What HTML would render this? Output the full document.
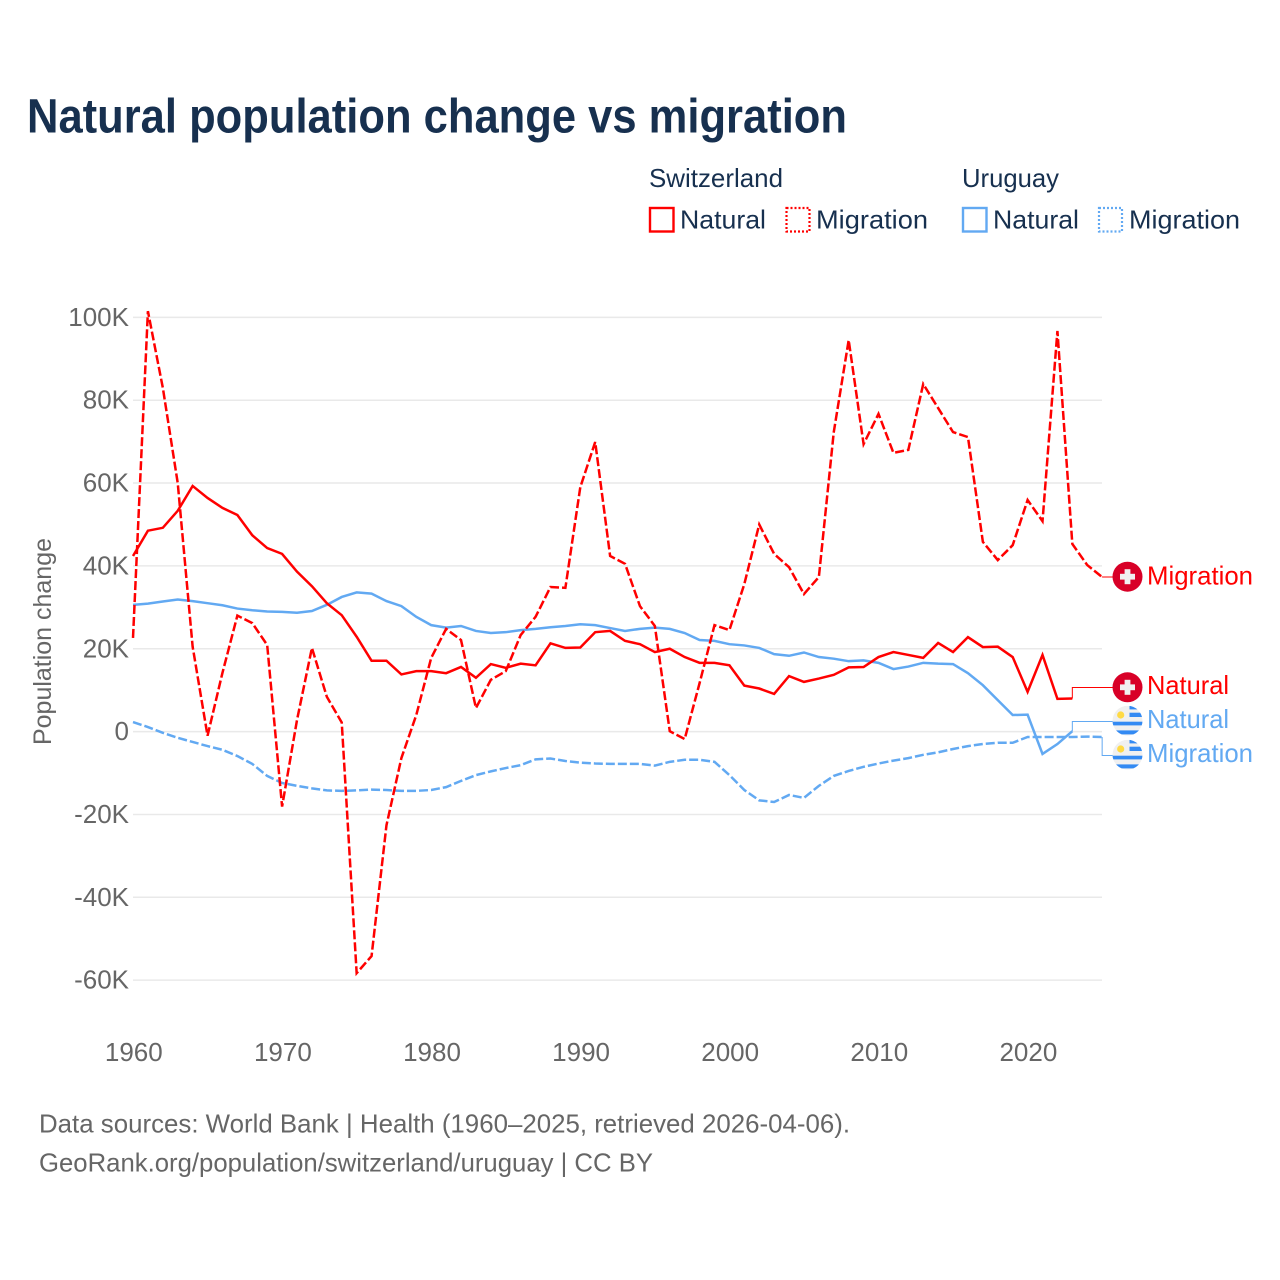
<!DOCTYPE html>
<html lang="en">
<head>
<meta charset="utf-8">
<title>Natural population change vs migration</title>
<style>
html,body{margin:0;padding:0;background:#fff;}
svg{display:block;font-family:"Liberation Sans",sans-serif;}
</style>
</head>
<body>
<svg id="chart" xmlns="http://www.w3.org/2000/svg" width="1280" height="1280" viewBox="0 0 1280 1280">
  <defs>
    <clipPath id="flag-clip"><circle cx="0" cy="0" r="15"/></clipPath>
  </defs>
  <rect x="0" y="0" width="1280" height="1280" fill="#fff"/>
  <text x="27" y="132.5" font-size="48" font-weight="700" fill="#17304f" textLength="820" lengthAdjust="spacingAndGlyphs">Natural population change vs migration</text>

  <g font-size="26" fill="#17304f">
    <text x="649" y="187" textLength="134" lengthAdjust="spacingAndGlyphs">Switzerland</text>
    <text x="962" y="187" textLength="97" lengthAdjust="spacingAndGlyphs">Uruguay</text>
    <rect x="650" y="208" width="23.5" height="23.5" fill="none" stroke="#ff0000" stroke-width="2.4"/>
    <text x="680" y="228.5" textLength="86" lengthAdjust="spacingAndGlyphs">Natural</text>
    <rect x="786.5" y="208" width="23" height="23.5" fill="none" stroke="#ff0000" stroke-width="2.2" stroke-dasharray="2 2"/>
    <text x="816" y="228.5" textLength="112" lengthAdjust="spacingAndGlyphs">Migration</text>
    <rect x="963" y="208" width="23.5" height="23.5" fill="none" stroke="#62a9f2" stroke-width="2.4"/>
    <text x="993" y="228.5" textLength="86" lengthAdjust="spacingAndGlyphs">Natural</text>
    <rect x="1099" y="208" width="23" height="23.5" fill="none" stroke="#62a9f2" stroke-width="2.2" stroke-dasharray="2 2"/>
    <text x="1129" y="228.5" textLength="111" lengthAdjust="spacingAndGlyphs">Migration</text>
  </g>

  <g id="grid"></g>
  <g id="y-ticks" font-size="26" fill="#666" text-anchor="end"></g>
  <g id="x-ticks" font-size="26" fill="#666" text-anchor="middle"></g>
  <text transform="translate(51,641.5) rotate(-90)" font-size="25" fill="#666" text-anchor="middle" textLength="207" lengthAdjust="spacingAndGlyphs">Population change</text>

  <g id="connectors" fill="none" stroke-width="1"></g>
  <g id="series" fill="none" stroke-width="2.5" stroke-linejoin="miter"></g>

  <g>
    <g transform="translate(1127.5,576.7)">
      <circle r="15" fill="#d80027"/><rect x="-7.5" y="-2.9" width="15" height="5.8" fill="#f0f0f0"/><rect x="-2.9" y="-7.5" width="5.8" height="15" fill="#f0f0f0"/>
    </g>
    <text x="1147" y="584.5" font-size="26" fill="#ff0000" textLength="106" lengthAdjust="spacingAndGlyphs">Migration</text>
  </g>
  <g>
    <g transform="translate(1127.5,687.3)">
      <circle r="15" fill="#d80027"/><rect x="-7.5" y="-2.9" width="15" height="5.8" fill="#f0f0f0"/><rect x="-2.9" y="-7.5" width="5.8" height="15" fill="#f0f0f0"/>
    </g>
    <text x="1147" y="694" font-size="26" fill="#ff0000" textLength="82" lengthAdjust="spacingAndGlyphs">Natural</text>
  </g>
  <g>
    <g transform="translate(1127.5,720.7)" clip-path="url(#flag-clip)">
      <circle r="15" fill="#f0f0f0"/><rect x="2" y="-15" width="14" height="3.7" fill="#338af3"/><rect x="2" y="-8" width="14" height="4.3" fill="#338af3"/><rect x="-15" y="1" width="30" height="3.7" fill="#338af3"/><rect x="-15" y="9.7" width="30" height="4" fill="#338af3"/><circle cx="-6.8" cy="-5.7" r="3.6" fill="#ffda44"/>
    </g>
    <text x="1147" y="728" font-size="26" fill="#62a9f2" textLength="82" lengthAdjust="spacingAndGlyphs">Natural</text>
  </g>
  <g>
    <g transform="translate(1127.5,754.7)" clip-path="url(#flag-clip)">
      <circle r="15" fill="#f0f0f0"/><rect x="2" y="-15" width="14" height="3.7" fill="#338af3"/><rect x="2" y="-8" width="14" height="4.3" fill="#338af3"/><rect x="-15" y="1" width="30" height="3.7" fill="#338af3"/><rect x="-15" y="9.7" width="30" height="4" fill="#338af3"/><circle cx="-6.8" cy="-5.7" r="3.6" fill="#ffda44"/>
    </g>
    <text x="1147" y="762" font-size="26" fill="#62a9f2" textLength="106" lengthAdjust="spacingAndGlyphs">Migration</text>
  </g>

  <text x="39" y="1132.5" font-size="26" fill="#666" textLength="811" lengthAdjust="spacingAndGlyphs">Data sources: World Bank | Health (1960–2025, retrieved 2026-04-06).</text>
  <text x="39" y="1171.5" font-size="26" fill="#666" textLength="614" lengthAdjust="spacingAndGlyphs">GeoRank.org/population/switzerland/uruguay | CC BY</text>
</svg>
<script>
// Chart data (thousands of people per year, first value is 1960)
const startYear = 1960;
const yTickValues = [100, 80, 60, 40, 20, 0, -20, -40, -60];
const xTickYears = [1960, 1970, 1980, 1990, 2000, 2010, 2020];
const swissNatural = [42.4,48.5,49.2,53.3,59.3,56.4,54,52.3,47.4,44.3,42.9,38.6,35.1,31,28.1,22.9,17.1,17.1,13.8,14.6,14.6,14.1,15.6,13,16.3,15.4,16.4,16,21.3,20.2,20.3,24,24.3,21.9,21.1,19.2,20,18,16.6,16.6,16,11.1,10.4,9.1,13.4,12,12.8,13.7,15.5,15.6,18,19.2,18.5,17.8,21.4,19.2,22.8,20.4,20.5,18,9.6,18.5,7.9,8];
const swissMigration = [22.6,101.5,83,60,20.5,-1,14.2,28,26.2,20.9,-18.1,2.8,20.2,8.4,2.2,-58.3,-54.2,-22.6,-6.4,4,17.8,24.8,22.1,5.7,12.5,14.6,23.3,27.7,34.9,34.7,59,69.9,42.4,40.5,30.3,25.5,0.1,-1.8,11.7,25.7,24.5,35.6,50,42.9,39.7,33.2,37.3,72.3,94.5,69.4,76.7,67.3,68,83.9,78.1,72.3,71.1,45.8,41.4,45,55.9,50.8,96.7,45.3,40.2,37.3];
const uruguayNatural = [30.6,30.9,31.4,31.9,31.5,31,30.5,29.7,29.3,29,28.9,28.7,29.1,30.6,32.5,33.6,33.3,31.5,30.3,27.7,25.7,25.1,25.5,24.3,23.8,24,24.5,24.8,25.2,25.5,25.9,25.7,25,24.3,24.8,25.1,24.8,23.8,22.1,21.9,21.1,20.8,20.2,18.7,18.3,19.1,18,17.6,17,17.2,16.6,15.1,15.7,16.6,16.4,16.3,14.1,11.2,7.6,4,4.1,-5.4,-3,0.1];
const uruguayMigration = [2.3,1.1,-0.3,-1.5,-2.5,-3.5,-4.4,-5.9,-7.8,-10.7,-12.4,-13.1,-13.7,-14.2,-14.3,-14.2,-14,-14.1,-14.3,-14.3,-14.1,-13.4,-11.9,-10.5,-9.6,-8.8,-8.1,-6.7,-6.5,-7.1,-7.5,-7.7,-7.8,-7.8,-7.8,-8.2,-7.3,-6.8,-6.8,-7.3,-10.5,-14.1,-16.6,-17,-15.3,-16,-13.1,-10.7,-9.5,-8.5,-7.7,-7,-6.4,-5.6,-5,-4.2,-3.5,-3,-2.7,-2.7,-1.3,-1.3,-1.3,-1.3,-1.2,-1.3];

const NS = 'http://www.w3.org/2000/svg';
const RED = '#ff0000';
const BLUE = '#62a9f2';
const xScale = function (year) { return 133 + (year - startYear) * 14.91; };
const yScale = function (v) { return 731.6 - v * 4.1425; };
const gridX1 = 133;
const gridX2 = 1102;
const labelX = 1113;

function make(tag, parent, attrs) {
  const el = document.createElementNS(NS, tag);
  Object.keys(attrs).forEach(function (k) { el.setAttribute(k, attrs[k]); });
  parent.appendChild(el);
  return el;
}

const gridGroup = document.getElementById('grid');
const yTickGroup = document.getElementById('y-ticks');
yTickValues.forEach(function (v) {
  const line = make('line', gridGroup, { x1: gridX1, x2: gridX2, y1: yScale(v), y2: yScale(v), stroke: '#e9e9e9', 'stroke-width': 1.5 });
  
  
  const label = make('text', yTickGroup, { x: 129, y: yScale(v) + 8.5 });
  
  
  label.textContent = v === 0 ? '0' : v + 'K';
});

const xTickGroup = document.getElementById('x-ticks');
xTickYears.forEach(function (year) {
  const label = make('text', xTickGroup, { x: xScale(year) + 0.8, y: 1061 });
  
  
  label.textContent = String(year);
});

function linePath(values) {
  return values.map(function (v, i) {
    return (i === 0 ? 'M' : 'L') + xScale(startYear + i).toFixed(2) + ' ' + yScale(v).toFixed(2);
  }).join(' ');
}

function drawSeries(values, color, dashed, name) {
  const path = make('path', document.getElementById('series'), { d: linePath(values), stroke: color });
  if (dashed) { path.setAttribute('stroke-dasharray', '9 3'); }
  
  
}

function drawConnector(values, color, endY, name) {
  const lastX = xScale(startYear + values.length - 1);
  const lastY = yScale(values[values.length - 1]);
  const d = 'M' + lastX + ' ' + lastY + ' L' + lastX + ' ' + endY + ' L' + labelX + ' ' + endY;
  const path = make('path', document.getElementById('connectors'), { d: d, stroke: color });
  
  
}

drawConnector(swissNatural, RED, 687.5, 'connector-switzerland-natural');
drawConnector(swissMigration, RED, 577, 'connector-switzerland-migration');
drawConnector(uruguayNatural, BLUE, 721.5, 'connector-uruguay-natural');
drawConnector(uruguayMigration, BLUE, 755.5, 'connector-uruguay-migration');

drawSeries(uruguayMigration, BLUE, true, 'line-uruguay-migration');
drawSeries(uruguayNatural, BLUE, false, 'line-uruguay-natural');
drawSeries(swissMigration, RED, true, 'line-switzerland-migration');
drawSeries(swissNatural, RED, false, 'line-switzerland-natural');
</script>
</body>
</html>
